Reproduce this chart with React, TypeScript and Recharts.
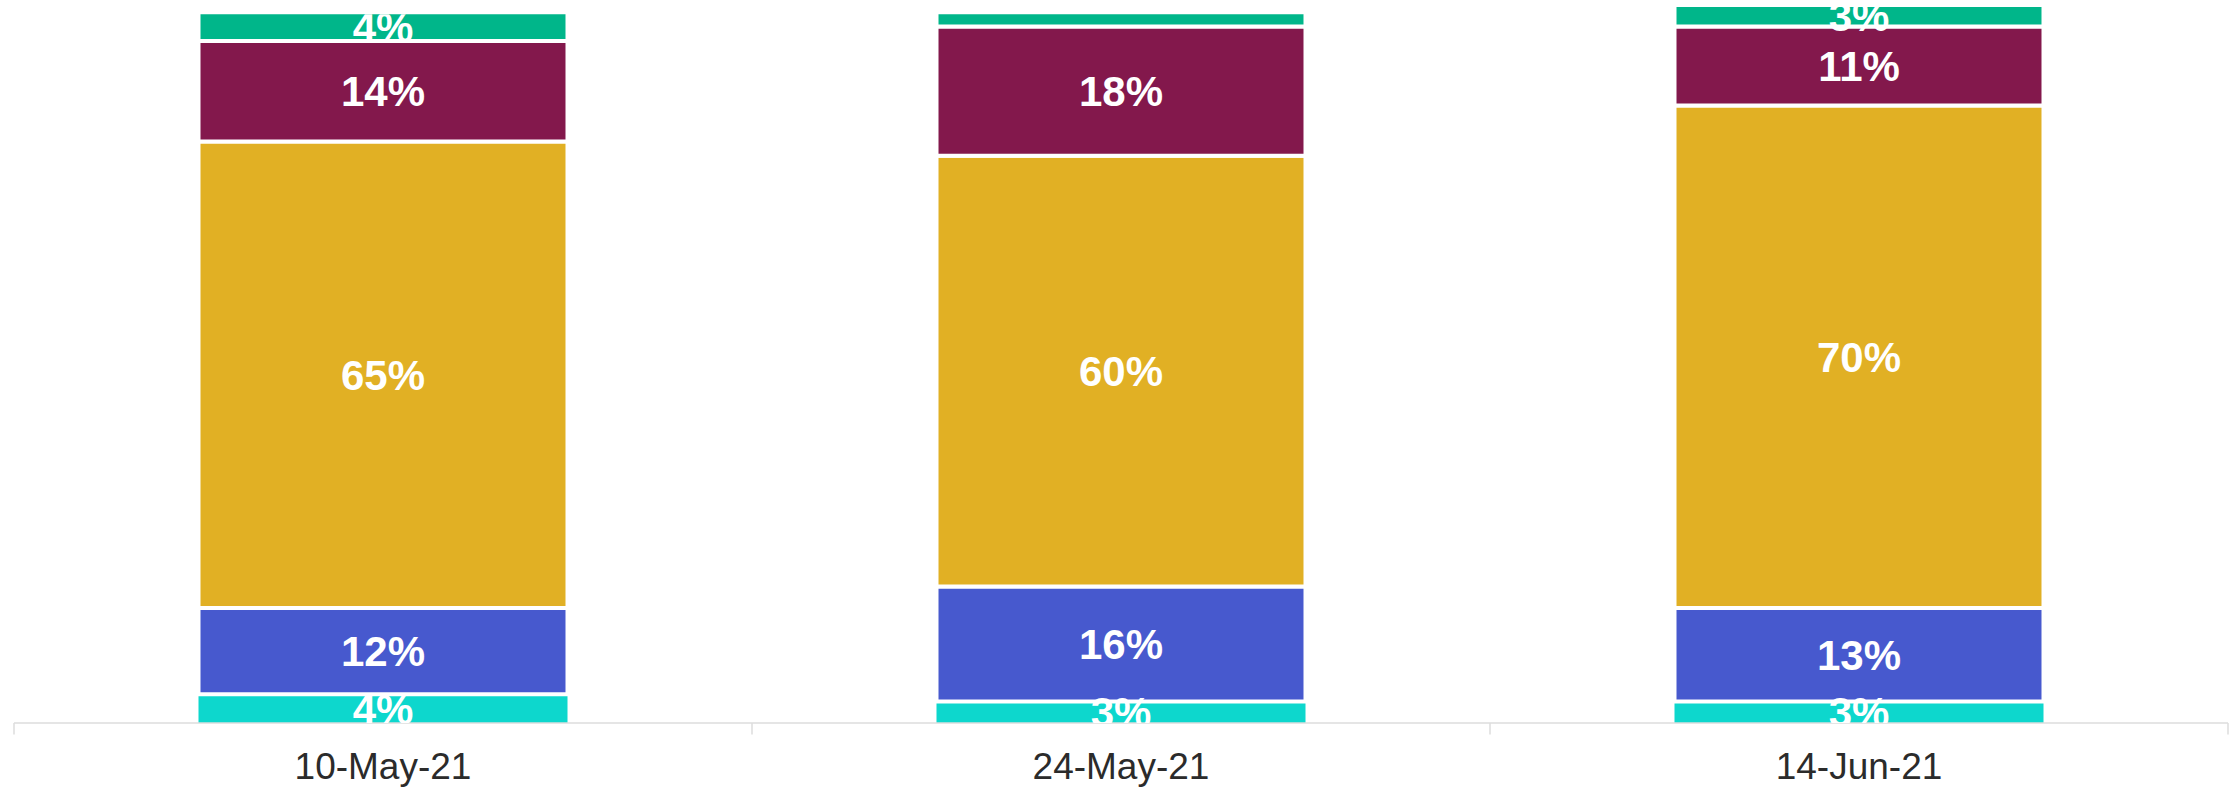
import React from 'react';
import { BarChart, Bar, XAxis, YAxis, LabelList, ReferenceLine } from 'recharts';

const categories = ['10-May-21', '24-May-21', '14-Jun-21'];
const tealValues = [4, 3, 3];
const blueValues = [12, 16, 13];
const goldValues = [65, 60, 70];
const maroonValues = [14, 18, 11];
const greenValues = [4, 2, 3];

const seriesKeys = ['teal', 'blue', 'gold', 'maroon', 'green'];
const seriesValues = [tealValues, blueValues, goldValues, maroonValues, greenValues];
const seriesColors = ['#0DD7CD', '#4759CE', '#E1B024', '#83184C', '#00B68A'];

const data = categories.map((c, i) => {
  const row: any = { name: c };
  seriesKeys.forEach((k, s) => {
    row[k] = seriesValues[s][i];
  });
  return row;
});

const FONT = '"Liberation Sans", Arial, Helvetica, sans-serif';

const makeLabel = (si: number) => (props: any) => {
  const vb = props.viewBox || props;
  const x = Number(props.x ?? vb.x);
  const y = Number(props.y ?? vb.y);
  const width = Number(props.width ?? vb.width);
  const height = Number(props.height ?? vb.height);
  const value = Number(props.value);
  const idx = props.index;
  if (!(value >= 2.5) || !height || idx == null) return null;
  const top = Math.min(y, y + height);
  const bottom = Math.max(y, y + height);
  const ppu = (bottom - top) / value;
  let below = 0;
  for (let k = 0; k < si; k++) below += seriesValues[k][idx];
  let total = 0;
  for (let k = 0; k < seriesValues.length; k++) total += seriesValues[k][idx];
  const y0 = bottom + below * ppu;
  const stackTop = y0 - total * ppu;
  const id = `lblclip-${si}-${idx}`;
  return (
    <g>
      <defs>
        <clipPath id={id}>
          <rect x={x} y={stackTop + 2} width={width} height={y0 - stackTop - 2} />
        </clipPath>
      </defs>
      <text
        x={x + width / 2}
        y={(top + bottom) / 2}
        dy="0.36em"
        textAnchor="middle"
        fill="#ffffff"
        fontSize={42}
        fontWeight="bold"
        fontFamily={FONT}
        clipPath={`url(#${id})`}
      >
        {`${value}%`}
      </text>
    </g>
  );
};

export default function App() {
  return (
    <div style={{ position: 'absolute', left: 0, top: 0, width: 2239, height: 787, background: '#fff' }}>
      <BarChart
        width={2239}
        height={787}
        data={data}
        margin={{ top: 5, right: 11, left: 14, bottom: 0 }}
        barCategoryGap="25%"
      >
        <XAxis
          dataKey="name"
          height={64}
          axisLine={{ stroke: '#DCDCDC', strokeWidth: 1.5 }}
          tickLine={false}
          tickSize={0}
          tickMargin={30}
          tick={{ fill: '#2B2B2B', fontSize: 37, fontFamily: FONT }}
          interval={0}
        />
        <YAxis hide domain={[0, 100]} type="number" />
        {seriesKeys.map((k, s) => (
          <Bar
            key={k}
            dataKey={k}
            stackId="a"
            fill={seriesColors[s]}
            stroke={s === 0 ? 'none' : '#ffffff'}
            strokeWidth={s === 0 ? 0 : 4}
            isAnimationActive={false}
          >
            <LabelList dataKey={k} content={makeLabel(s)} />
          </Bar>
        ))}
        {categories.map((c) => (
          <ReferenceLine
            key={`tick-${c}`}
            segment={[{ x: c, y: 0 }, { x: c, y: -1.6 }]}
            position="start"
            ifOverflow="visible"
            stroke="#DCDCDC"
            strokeWidth={1.5}
          />
        ))}
        <ReferenceLine
          segment={[
            { x: categories[categories.length - 1], y: 0 },
            { x: categories[categories.length - 1], y: -1.6 },
          ]}
          position="end"
          ifOverflow="visible"
          stroke="#DCDCDC"
          strokeWidth={1.5}
        />
      </BarChart>
    </div>
  );
}
